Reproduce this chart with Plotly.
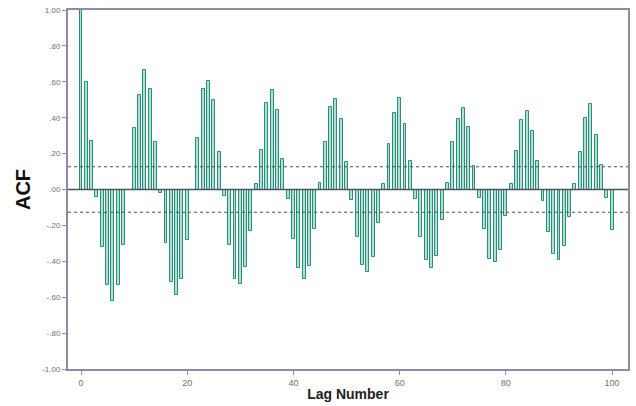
import plotly.graph_objects as go

lags = list(range(0, 101))
acf = [
    1.00, 0.60, 0.27, -0.04, -0.32, -0.53, -0.62, -0.53, -0.31, 0.00,
    0.34, 0.525, 0.665, 0.558, 0.267, -0.02, -0.298, -0.514, -0.587, -0.50,
    -0.284, 0.00, 0.287, 0.558, 0.604, 0.50, 0.208, -0.037, -0.31, -0.50,
    -0.529, -0.43, -0.232, 0.03, 0.221, 0.484, 0.552, 0.444, 0.168, -0.055,
    -0.274, -0.44, -0.497, -0.427, -0.219, 0.039, 0.263, 0.457, 0.503, 0.392,
    0.153, -0.059, -0.267, -0.418, -0.46, -0.378, -0.188, 0.031, 0.254, 0.425,
    0.508, 0.365, 0.158, -0.053, -0.263, -0.393, -0.44, -0.368, -0.17, 0.039,
    0.267, 0.392, 0.453, 0.346, 0.131, -0.05, -0.221, -0.387, -0.405, -0.335,
    -0.145, 0.03, 0.217, 0.389, 0.435, 0.328, 0.158, -0.064, -0.234, -0.359,
    -0.39, -0.317, -0.151, 0.033, 0.208, 0.396, 0.475, 0.306, 0.134, -0.046,
    -0.225,
]
conf_limit = 0.127
y_tickvals = [1.0, 0.8, 0.6, 0.4, 0.2, 0.0, -0.2, -0.4, -0.6, -0.8, -1.0]
y_ticktext = ["1.00", ".80", ".60", ".40", ".20", ".00", "-.20", "-.40", "-.60", "-.80", "-1.00"]
x_tickvals = [0, 20, 40, 60, 80, 100]

fig = go.Figure()
fig.add_trace(go.Bar(
    x=lags, y=acf, width=0.55,
    marker=dict(color="#a6e4d6", line=dict(color="#2f8a78", width=1)),
    showlegend=False,
))

axis_col = "#8c8ca8"
fig.add_hline(y=0, line=dict(color="#505060", width=1.3))
fig.add_hline(y=conf_limit, line=dict(color="#505060", width=1.1, dash="3px,3px"))
fig.add_hline(y=-conf_limit, line=dict(color="#505060", width=1.1, dash="3px,3px"))

fig.update_layout(
    width=636, height=406,
    margin=dict(l=68, r=6, t=10, b=34),
    paper_bgcolor="white", plot_bgcolor="white",
    bargap=0,
    font=dict(family="Liberation Sans, Arial, sans-serif"),
)
fig.update_xaxes(
    range=[-2.45, 103.0], tickvals=x_tickvals,
    showline=True, linecolor=axis_col, linewidth=2, mirror=True,
    ticks="outside", ticklen=4, tickcolor=axis_col,
    showgrid=False, zeroline=False,
    tickfont=dict(size=9, color="#707070"),
    title=dict(text="<b>Lag Number</b>", font=dict(size=14, color="#222222"), standoff=2),
)
fig.update_yaxes(
    range=[-1.0, 1.0], tickvals=y_tickvals, ticktext=y_ticktext,
    showline=True, linecolor=axis_col, linewidth=2, mirror=True,
    ticks="outside", ticklen=4, tickcolor=axis_col,
    showgrid=False, zeroline=False,
    tickfont=dict(size=8, color="#707070"),
    title=dict(text="<b>ACF</b>", font=dict(size=20, color="#111111"), standoff=6),
)

fig.write_html("out.html")
